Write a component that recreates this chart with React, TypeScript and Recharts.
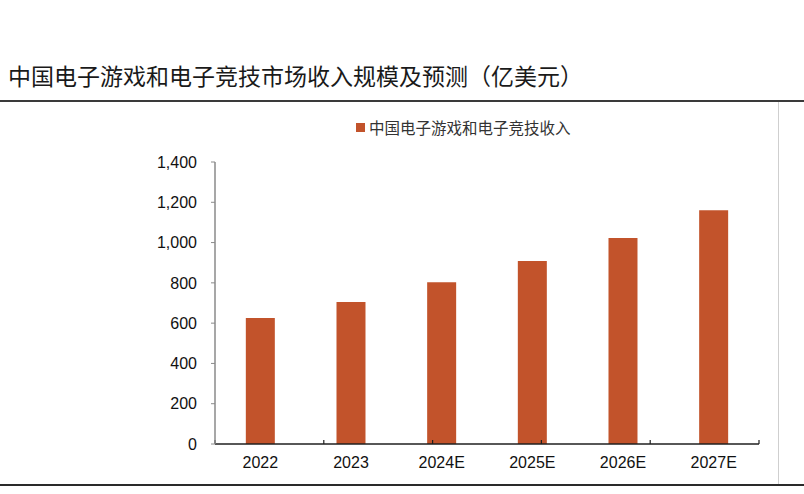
import React from "react";
import { BarChart, Bar, XAxis, YAxis } from "recharts";

const years = ["2022", "2023", "2024E", "2025E", "2026E", "2027E"];
const revenue = [625, 705, 803, 908, 1023, 1160];
const yTicks = [0, 200, 400, 600, 800, 1000, 1200, 1400];
const boundaryTicks = [0, 1, 2, 3, 4, 5, 6];

const title = "中国电子游戏和电子竞技市场收入规模及预测（亿美元）";
const seriesName = "中国电子游戏和电子竞技收入";

const barColor = "#C2532B";
const cjkFont = '"Noto Sans CJK SC", "Noto Sans", sans-serif';
const tickFont = '"Liberation Sans", Arial, sans-serif';

const data = years.map((year, i) => ({ year, value: revenue[i] }));

const App: React.FC = () => {
  return (
    <div
      style={{
        position: "absolute",
        left: 0,
        top: 0,
        width: 804,
        height: 494,
        background: "#fff",
        overflow: "hidden",
      }}
    >
      {/* title */}
      <div
        style={{
          position: "absolute",
          left: 8,
          top: 60,
          fontFamily: cjkFont,
          fontSize: 23,
          lineHeight: "30px",
          color: "#1a1a1a",
          whiteSpace: "nowrap",
        }}
      >
        {title}
      </div>
      {/* frame lines */}
      <div style={{ position: "absolute", left: 0, top: 100, width: 804, height: 2, background: "#3a3a3a" }} />
      <div style={{ position: "absolute", left: 0, top: 484, width: 804, height: 2, background: "#2a2a2a" }} />
      <div style={{ position: "absolute", left: 778, top: 102, width: 1, height: 382, background: "#cfcfcf" }} />

      {/* legend */}
      <div
        style={{
          position: "absolute",
          left: 356,
          top: 117,
          display: "flex",
          alignItems: "center",
          fontFamily: cjkFont,
          fontSize: 15.5,
          lineHeight: "20px",
          color: "#333",
          whiteSpace: "nowrap",
        }}
      >
        <span style={{ display: "inline-block", width: 9, height: 9, background: barColor, marginRight: 4 }} />
        {seriesName}
      </div>

      <div style={{ position: "absolute", left: 0, top: 0 }}>
        <BarChart
          width={804}
          height={494}
          data={data}
          margin={{ top: 162, right: 45, bottom: 20, left: 155 }}
          barCategoryGap="34%"
        >
          <XAxis
            dataKey="year"
            height={30}
            tickLine={false}
            axisLine={{ stroke: "#1f1f1f", strokeWidth: 1.5 }}
            tickSize={6}
            tickMargin={7}
            tick={{ fill: "#111", fontSize: 16, fontFamily: tickFont }}
            interval={0}
          />
          <XAxis
            xAxisId="bounds"
            type="number"
            domain={[0, 6]}
            ticks={boundaryTicks}
            orientation="bottom"
            mirror
            height={1}
            axisLine={false}
            tick={() => null}
            tickSize={4}
            tickLine={{ stroke: "#1f1f1f", strokeWidth: 1.2 }}
            allowDataOverflow
          />
          <YAxis
            width={60}
            domain={[0, 1400]}
            ticks={yTicks}
            tickSize={4}
            tickMargin={14}
            axisLine={{ stroke: "#8a8a8a", strokeWidth: 1.5 }}
            tickLine={{ stroke: "#8a8a8a" }}
            tick={{ fill: "#111", fontSize: 16, fontFamily: tickFont }}
            tickFormatter={(v: number) => v.toLocaleString("en-US")}
          />
          <Bar dataKey="value" fill={barColor} isAnimationActive={false} />
        </BarChart>
      </div>
    </div>
  );
};

export default App;
